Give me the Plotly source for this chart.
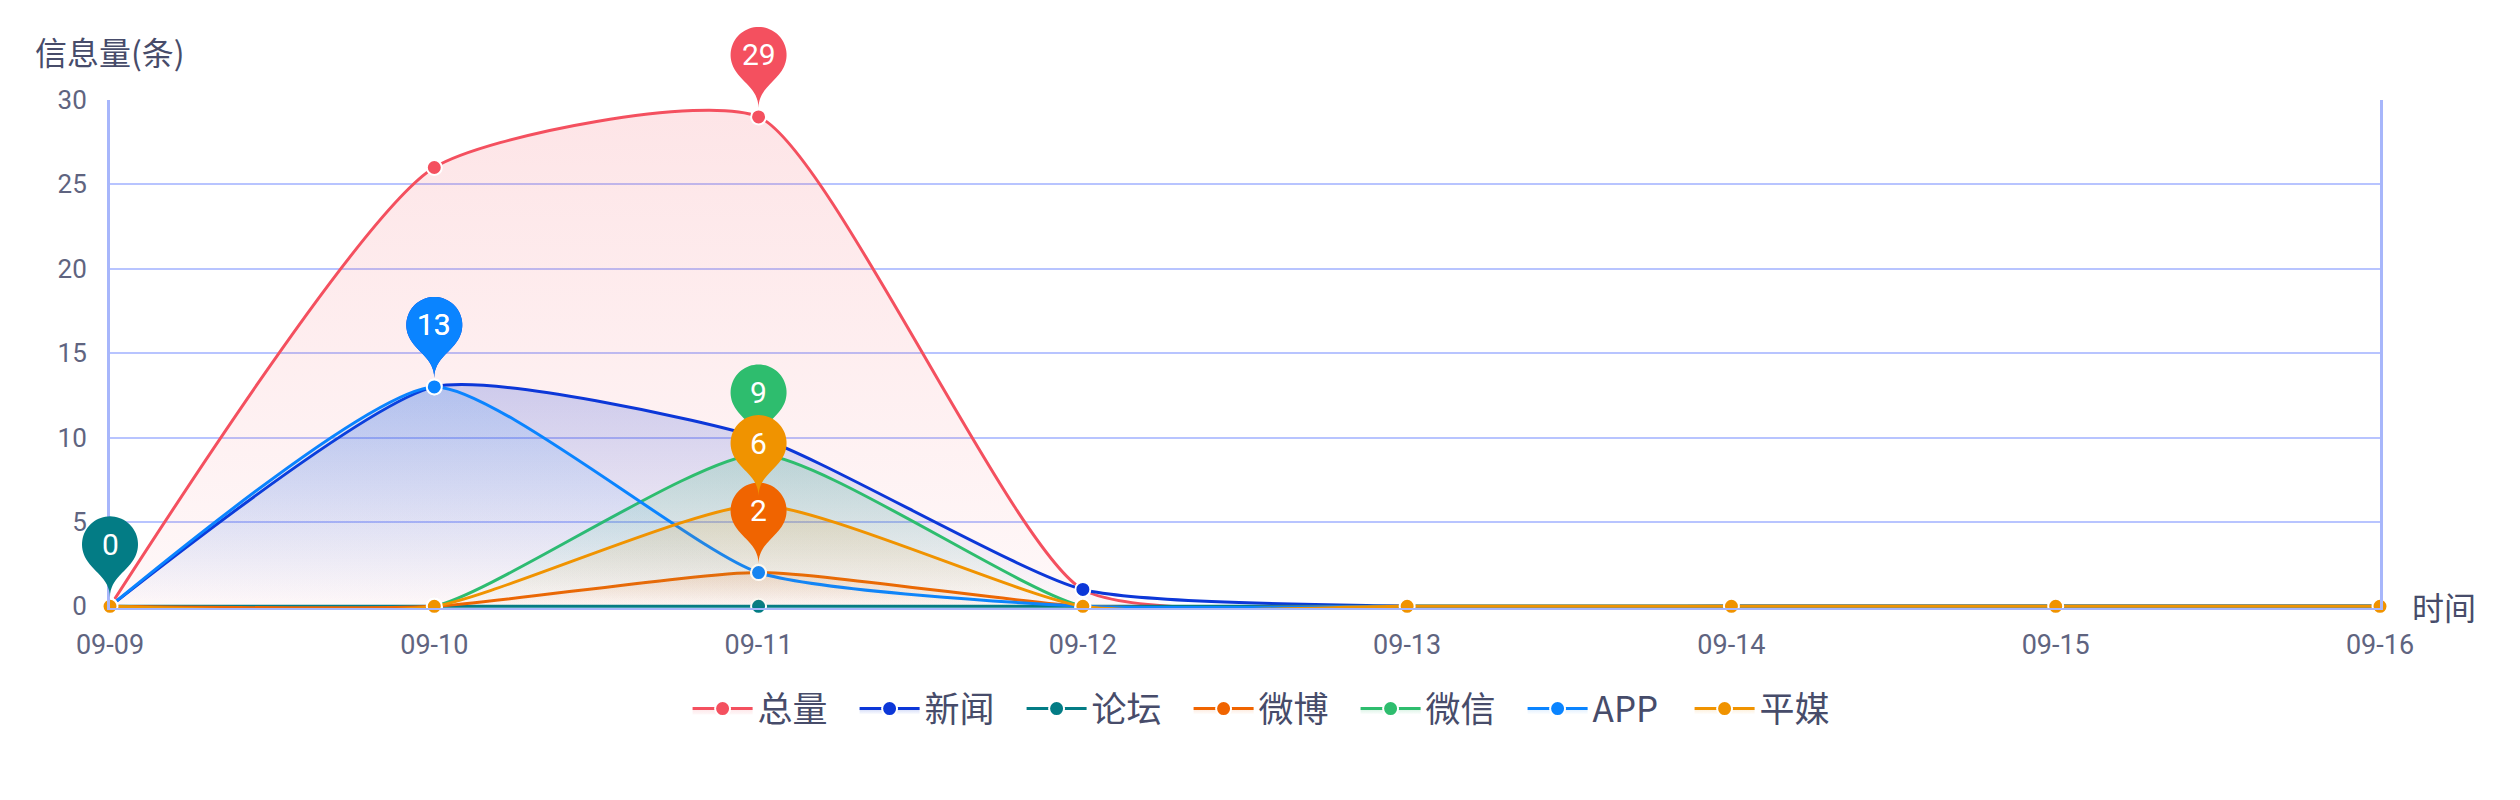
import math
import plotly.graph_objects as go

# ---------------- data ----------------
dates = ['09-09', '09-10', '09-11', '09-12', '09-13', '09-14', '09-15', '09-16']
total = [0, 26, 29, 1, 0, 0, 0, 0]      # 总量
news = [0, 13, 10, 1, 0, 0, 0, 0]       # 新闻
forum = [0, 0, 0, 0, 0, 0, 0, 0]        # 论坛
weibo = [0, 0, 2, 0, 0, 0, 0, 0]        # 微博
wechat = [0, 0, 9, 0, 0, 0, 0, 0]       # 微信
app = [0, 13, 2, 0, 0, 0, 0, 0]         # APP
press = [0, 0, 6, 0, 0, 0, 0, 0]        # 平媒

series_names = ['总量', '新闻', '论坛', '微博', '微信', 'APP', '平媒']
series_values = [total, news, forum, weibo, wechat, app, press]
series_colors = ['#f4505f', '#0c37d8', '#037c85', '#f06400', '#2ebd6e', '#0a84ff', '#f09300']
fill_alpha_top = [0.15, 0.2, 0.0, 0.15, 0.2, 0.14, 0.16]
fill_alpha_bottom = [0.04, 0.0, 0.0, 0.0, 0.0, 0.0, 0.0]

y_range = [-0.1, 30]
x_range = [0, len(dates) - 1]

FONT = 'Noto Sans CJK SC, Noto Sans, sans-serif'
NUM_FONT = 'Roboto, Noto Sans, sans-serif'
TICK_COLOR = '#5f6480'
TEXT_COLOR = '#474c6a'
GRID_COLOR = '#b8c4ff'
AXIS_COLOR = '#a7b6fb'


def rgba(hex_color, a):
    h = hex_color.lstrip('#')
    r, g, b = int(h[0:2], 16), int(h[2:4], 16), int(h[4:6], 16)
    return f'rgba({r},{g},{b},{a})'


def pin_path(r=28.0, size=93.0, lift=9.0, n_arc=48):
    """ECharts-like 'pin' glyph, in pixels relative to its anchor (y up)."""
    dy = r * r / (size - r)
    cy = size - r - dy
    ang = math.asin(dy / r)
    dx = math.cos(ang) * r
    tx, ty = math.sin(ang), math.cos(ang)
    cp, cp2 = r * 0.6, r * 0.7
    pts = []
    for k in range(n_arc + 1):
        th = (math.pi + ang) - (math.pi + 2 * ang) * k / n_arc
        pts.append((r * math.cos(th), cy + r * math.sin(th)))
    s = 'M{:.2f},{:.2f}'.format(pts[0][0], pts[0][1] + lift)
    for px, py in pts[1:]:
        s += ' L{:.2f},{:.2f}'.format(px, py + lift)
    s += ' C{:.2f},{:.2f} {:.2f},{:.2f} {:.2f},{:.2f}'.format(
        dx - tx * cp, cy - dy - ty * cp + lift, 0, cp2 + lift, 0, lift)
    s += ' C{:.2f},{:.2f} {:.2f},{:.2f} {:.2f},{:.2f}'.format(
        0, cp2 + lift, -dx + tx * cp, cy - dy - ty * cp + lift, -dx, cy - dy + lift)
    s += ' Z'
    return s, cy + lift


PIN_PATH, PIN_CENTER = pin_path()

fig = go.Figure()

for name, vals, col, at, ab in zip(series_names, series_values, series_colors,
                                    fill_alpha_top, fill_alpha_bottom):
    tr = dict(
        x=dates, y=vals, name=name, mode='lines+markers',
        line=dict(color=col, width=3, shape='spline', smoothing=0.55),
        marker=dict(color=col, size=15, line=dict(color='white', width=2)),
        cliponaxis=False,
    )
    if at > 0:
        tr['fill'] = 'tozeroy'
        tr['fillgradient'] = dict(type='vertical',
                                  colorscale=[[0, rgba(col, ab)], [1, rgba(col, at)]])
    fig.add_trace(go.Scatter(**tr))

# max-value pins (markPoint style)
shapes = []
annotations = []
for name, vals, col in zip(series_names, series_values, series_colors):
    vmax = max(vals)
    idx = vals.index(vmax)
    xa = (idx - x_range[0]) / (x_range[1] - x_range[0])
    ya = (vmax - y_range[0]) / (y_range[1] - y_range[0])
    shapes.append(dict(type='path', xref='x domain', yref='y domain',
                       xsizemode='pixel', ysizemode='pixel',
                       xanchor=xa, yanchor=ya, path=PIN_PATH,
                       fillcolor=col, line=dict(width=0), layer='above'))
    annotations.append(dict(x=dates[idx], y=vmax, xref='x', yref='y',
                            text=str(vmax), showarrow=False, yshift=PIN_CENTER,
                            font=dict(family=NUM_FONT, size=30, color='white')))

# axis names
annotations.append(dict(x=0, y=1, xref='paper', yref='paper', text='信息量(条)',
                        showarrow=False, xanchor='center', yanchor='middle', yshift=49,
                        font=dict(family=FONT, size=32, color=TEXT_COLOR)))
annotations.append(dict(x=1, y=0, xref='paper', yref='y', text='时间',
                        showarrow=False, xanchor='left', yanchor='middle', xshift=30,
                        font=dict(family=FONT, size=32, color=TEXT_COLOR)))

fig.update_layout(
    width=2520, height=800,
    margin=dict(l=110, r=140, t=100, b=192),
    paper_bgcolor='white', plot_bgcolor='white',
    font=dict(family=FONT, color=TICK_COLOR),
    shapes=shapes, annotations=annotations,
    showlegend=True,
    legend=dict(orientation='h', x=0.5048, xref='container', xanchor='center',
                y=0.114, yref='container', yanchor='middle',
                font=dict(family=FONT, size=35, color=TEXT_COLOR),
                itemwidth=60, entrywidth=92, bgcolor='rgba(0,0,0,0)'),
    hovermode=False,
)
fig.update_xaxes(type='category', range=x_range, showgrid=False, zeroline=False,
                 showline=True, linecolor=AXIS_COLOR, linewidth=2, ticks='',
                 tickfont=dict(family=NUM_FONT, size=27, color=TICK_COLOR),
                 ticklabelstandoff=12)
fig.update_yaxes(range=y_range, tickvals=[0, 5, 10, 15, 20, 25, 30], showgrid=True,
                 gridcolor=GRID_COLOR, gridwidth=2, zeroline=False,
                 showline=True, mirror=True, linecolor=AXIS_COLOR, linewidth=3, ticks='',
                 tickfont=dict(family=NUM_FONT, size=26, color=TICK_COLOR),
                 ticklabelstandoff=15)

fig.write_html('out.html', config={'displayModeBar': False},
               post_script="document.body.style.margin='0';")
